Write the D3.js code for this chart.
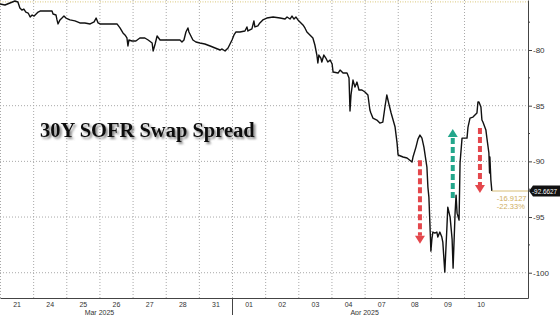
<!DOCTYPE html>
<html>
<head>
<meta charset="utf-8">
<script src="https://cdn.jsdelivr.net/npm/d3@7"></script>
<style>
  body { margin: 0; background: #fff; }
  svg { display: block; }
</style>
</head>
<body>
<svg id="canvas"></svg>
<script>
// session days on the x axis (one slot per trading day)
const dayLabels = ["21", "24", "25", "26", "27", "28", "31", "01", "02", "03", "04", "07", "08", "09", "10"]
const monthNames = ["Mar 2025", "Apr 2025"]
const monthLabelAt = [3.0, 11.0]
const monthBreak = 7

// intraday 30Y SOFR swap spread (bp), t = day slot + fraction of day
const sessionT = [
  0.00, 0.15, 0.30, 0.45, 0.54, 0.60, 0.66, 0.72, 0.78, 0.85, 0.91, 0.97, 1.03, 1.09, 1.15, 1.21, 1.42, 1.57, 1.60, 1.69,
  1.72, 1.75, 1.81, 1.87, 1.93, 1.99, 2.11, 2.26, 2.41, 2.56, 2.72, 2.84, 2.90, 2.96, 3.02, 3.32, 3.53, 3.62, 3.71, 3.77,
  3.83, 3.86, 3.89, 3.98, 4.10, 4.22, 4.37, 4.47, 4.59, 4.62, 4.68, 4.71, 4.74, 4.83, 5.13, 5.43, 5.49, 5.55, 5.61, 5.67,
  5.70, 5.76, 5.82, 5.91, 6.03, 6.18, 6.34, 6.49, 6.64, 6.70, 6.79, 6.88, 6.94, 7.00, 7.06, 7.12, 7.24, 7.39, 7.45, 7.48,
  7.54, 7.60, 7.66, 7.69, 7.78, 7.84, 7.93, 8.05, 8.24, 8.45, 8.60, 8.66, 8.75, 8.81, 8.87, 8.93, 8.99, 9.05, 9.14, 9.20,
  9.26, 9.38, 9.44, 9.50, 9.56, 9.59, 9.62, 9.68, 9.71, 9.77, 9.83, 9.89, 9.96, 10.02, 10.05, 10.20, 10.26, 10.35, 10.47, 10.53,
  10.56, 10.59, 10.65, 10.71, 10.77, 10.83, 10.92, 11.01, 11.10, 11.16, 11.19, 11.25, 11.37, 11.46, 11.55, 11.61, 11.67, 11.74, 11.80, 11.86,
  11.92, 11.98, 12.01, 12.16, 12.28, 12.43, 12.46, 12.55, 12.61, 12.67, 12.73, 12.79, 12.88, 12.91, 12.94, 12.97, 13.00, 13.03, 13.06, 13.12,
  13.18, 13.21, 13.27, 13.33, 13.36, 13.42, 13.48, 13.51, 13.58, 13.64, 13.67, 13.73, 13.76, 13.79, 13.85, 13.88, 13.94, 14.09, 14.12, 14.18,
  14.27, 14.39, 14.42, 14.45, 14.51, 14.54, 14.57, 14.66, 14.69, 14.75, 14.77, 14.78, 14.81, 14.84
]
const spreadValues = [
  -75.87, -75.96, -75.78, -75.60, -75.69, -76.23, -76.41, -76.32, -76.59, -76.68, -77.04, -76.86, -76.95, -76.77, -76.59, -76.50, -76.50, -76.50, -76.77, -76.86,
  -77.30, -77.66, -77.30, -77.13, -76.95, -77.13, -77.30, -77.39, -77.57, -77.57, -77.66, -77.48, -77.13, -77.57, -77.66, -77.66, -77.66, -78.02, -78.47, -78.65,
  -78.92, -79.64, -79.10, -79.19, -79.19, -78.92, -78.92, -79.10, -79.37, -80.09, -79.46, -79.10, -78.74, -79.10, -79.10, -79.10, -79.28, -79.10, -78.38, -78.02,
  -78.38, -78.74, -79.10, -79.28, -79.37, -79.46, -79.64, -79.82, -80.00, -79.91, -80.09, -79.82, -79.46, -79.10, -78.65, -78.38, -78.38, -78.29, -77.93, -78.29,
  -78.20, -78.11, -77.39, -77.93, -77.84, -77.57, -77.30, -77.13, -77.04, -77.13, -77.22, -77.04, -77.22, -76.95, -77.22, -77.04, -77.30, -77.48, -77.75, -78.02,
  -78.38, -78.74, -78.92, -79.55, -80.45, -81.17, -80.45, -80.72, -81.08, -80.45, -80.72, -81.08, -80.90, -81.26, -81.98, -82.07, -81.80, -82.07, -82.07, -82.52,
  -85.48, -84.04, -82.70, -83.33, -82.88, -83.59, -83.59, -83.77, -84.04, -85.39, -85.66, -86.11, -86.29, -86.56, -86.47, -85.21, -84.04, -84.94, -85.66, -86.29,
  -86.92, -88.36, -89.43, -89.61, -89.70, -90.06, -89.61, -88.72, -88.00, -87.64, -87.91, -88.72, -90.51, -92.31, -93.21, -95.54, -98.06, -96.98, -96.35, -96.44,
  -96.35, -96.80, -96.35, -96.80, -97.25, -99.95, -96.17, -94.11, -95.01, -96.98, -99.59, -94.65, -93.03, -94.65, -95.28, -90.15, -87.91, -87.91, -86.92, -86.11,
  -86.02, -85.66, -84.67, -84.67, -85.12, -86.29, -86.47, -87.19, -87.91, -89.25, -91.05, -89.61, -91.68, -92.66
]

const yTicks = [-80, -85, -90, -95, -100]
const yMinorTicks = [-77.5, -82.5, -87.5, -92.5, -97.5]
const highRef = -75.68
const lastValue = -92.6627
const changeTexts = ["-16.9127", "-22.33%"]

// annotation arrows: t, from value, to value, colour
const arrowT = [12.67, 13.66, 14.48]
const arrowFrom = [-89.9, -93.3, -87.0]
const arrowTo = [-97.4, -87.1, -92.85]
const arrowColors = ["#e4474c", "#23a68b", "#e4474c"]

const width = 560
const height = 315
const plotW = 528
const plotH = 298

let svg = d3.select('#canvas')
  .attr('width', width)
  .attr('height', height)
  .style('font-family', '"Liberation Sans", Arial, sans-serif')

let x = d3.scaleLinear().domain([0, 15.93]).range([0, plotW])
let y = d3.scaleLinear().domain([-102.27, -75.51]).range([plotH, 0])

let defs = svg.append('defs')
let shadow = defs.append('filter').attr('id', 'shadow')
  .attr('x', '-10%').attr('y', '-30%').attr('width', '130%').attr('height', '180%')
shadow.append('feDropShadow')
  .attr('dx', 2).attr('dy', 2).attr('stdDeviation', 1.3)
  .attr('flood-color', '#555').attr('flood-opacity', 0.7)

// grid
svg.append('g')
  .selectAll('line')
  .data(yTicks)
  .enter()
  .append('line')
  .attr('x1', 0).attr('x2', plotW)
  .attr('y1', d => y(d)).attr('y2', d => y(d))
  .attr('stroke', '#a8a8a8').attr('stroke-width', 1)
  .attr('stroke-dasharray', '1,2')

svg.append('g')
  .selectAll('line')
  .data(d3.range(0, dayLabels.length))
  .enter()
  .append('line')
  .attr('x1', d => x(d) + 0.5).attr('x2', d => x(d) + 0.5)
  .attr('y1', 0).attr('y2', plotH)
  .attr('stroke', '#a8a8a8').attr('stroke-width', 1)
  .attr('stroke-dasharray', '1,2')

// reference line at the top
svg.append('line')
  .attr('x1', 0).attr('x2', plotW)
  .attr('y1', y(highRef)).attr('y2', y(highRef))
  .attr('stroke', '#d9c77a').attr('stroke-width', 1)
  .attr('stroke-dasharray', '1,1.5')

// title
svg.append('text')
  .attr('x', 40).attr('y', 137)
  .attr('font-family', '"Liberation Serif", "Times New Roman", serif')
  .attr('font-size', 20.5)
  .attr('font-weight', 'bold')
  .attr('fill', '#111')
  .attr('filter', 'url(#shadow)')
  .text('30Y SOFR Swap Spread')

// series
let points = sessionT.map((t, i) => [t, spreadValues[i]])
let line = d3.line().x(d => x(d[0])).y(d => y(d[1]))

svg.append('path')
  .datum(points)
  .attr('d', line)
  .attr('fill', 'none')
  .attr('stroke', '#111')
  .attr('stroke-width', 1.4)
  .attr('stroke-linejoin', 'round')

// last value line
let lastT = sessionT[sessionT.length - 1]
svg.append('line')
  .attr('x1', x(lastT)).attr('x2', plotW)
  .attr('y1', y(lastValue)).attr('y2', y(lastValue))
  .attr('stroke', '#d8be78').attr('stroke-width', 1)

svg.selectAll('.chg')
  .data(changeTexts)
  .enter()
  .append('text')
  .attr('class', 'chg')
  .attr('x', x(lastT) + 5)
  .attr('y', (d, i) => y(lastValue) + 10 + i * 8)
  .attr('font-size', 7.5)
  .attr('fill', '#cfae5e')
  .text(d => d)

// arrows
arrowT.forEach((t, i) => {
  let ax = x(t)
  let y0 = y(arrowFrom[i])
  let y1 = y(arrowTo[i])
  let dir = y1 > y0 ? 1 : -1
  let head = 8
  svg.append('line')
    .attr('x1', ax).attr('x2', ax)
    .attr('y1', y0).attr('y2', y1 - dir * head)
    .attr('stroke', arrowColors[i])
    .attr('stroke-width', 4)
    .attr('stroke-dasharray', '6,3')
  svg.append('path')
    .attr('d', `M${ax - 5},${y1 - dir * head} L${ax + 5},${y1 - dir * head} L${ax},${y1} Z`)
    .attr('fill', arrowColors[i])
})

// right axis
let yAxis = d3.axisRight(y)
  .tickValues(yTicks)
  .tickSize(4)
  .tickSizeOuter(0)
  .tickFormat(d => String(d))

let yg = svg.append('g')
  .attr('transform', `translate(${plotW},0)`)
  .call(yAxis)
yg.select('.domain').attr('stroke', '#444')
yg.selectAll('.tick line').attr('stroke', '#444')
yg.selectAll('.tick text')
  .attr('x', 5)
  .attr('font-size', 8)
  .attr('font-family', '"Liberation Sans", Arial, sans-serif')
  .attr('fill', '#333')

svg.append('g')
  .selectAll('line')
  .data(yMinorTicks)
  .enter()
  .append('line')
  .attr('x1', plotW).attr('x2', plotW + 2)
  .attr('y1', d => y(d)).attr('y2', d => y(d))
  .attr('stroke', '#444')

// bottom axis
let xAxis = d3.axisBottom(x)
  .tickValues(dayLabels.map((d, i) => i + 0.5))
  .tickSize(0)
  .tickSizeOuter(0)
  .tickFormat(d => dayLabels[Math.floor(d)])

let xg = svg.append('g')
  .attr('transform', `translate(0,${plotH})`)
  .call(xAxis)
xg.select('.domain').attr('stroke', '#444')
xg.selectAll('.tick text')
  .attr('y', 8.7)
  .attr('dy', 0)
  .attr('font-size', 7)
  .attr('font-family', '"Liberation Sans", Arial, sans-serif')
  .attr('fill', '#333')

svg.append('line')
  .attr('x1', x(monthBreak) + 0.5).attr('x2', x(monthBreak) + 0.5)
  .attr('y1', plotH).attr('y2', height)
  .attr('stroke', '#444')

svg.selectAll('.month')
  .data(monthNames)
  .enter()
  .append('text')
  .attr('class', 'month')
  .attr('x', (d, i) => x(monthLabelAt[i]))
  .attr('y', 314.5)
  .attr('text-anchor', 'middle')
  .attr('font-size', 7)
  .attr('fill', '#333')
  .text(d => d)

// last value tag
let ly = y(lastValue)
svg.append('path')
  .attr('d', `M${plotW + 1},${ly} L${plotW + 5},${ly - 5.5} L${width},${ly - 5.5} L${width},${ly + 5.5} L${plotW + 5},${ly + 5.5} Z`)
  .attr('fill', '#111')
svg.append('text')
  .attr('x', plotW + 4)
  .attr('y', ly + 2.8)
  .attr('font-size', 7.2)
  .attr('textLength', 25)
  .attr('lengthAdjust', 'spacingAndGlyphs')
  .attr('fill', '#fff')
  .text(lastValue.toFixed(4))
</script>
</body>
</html>
